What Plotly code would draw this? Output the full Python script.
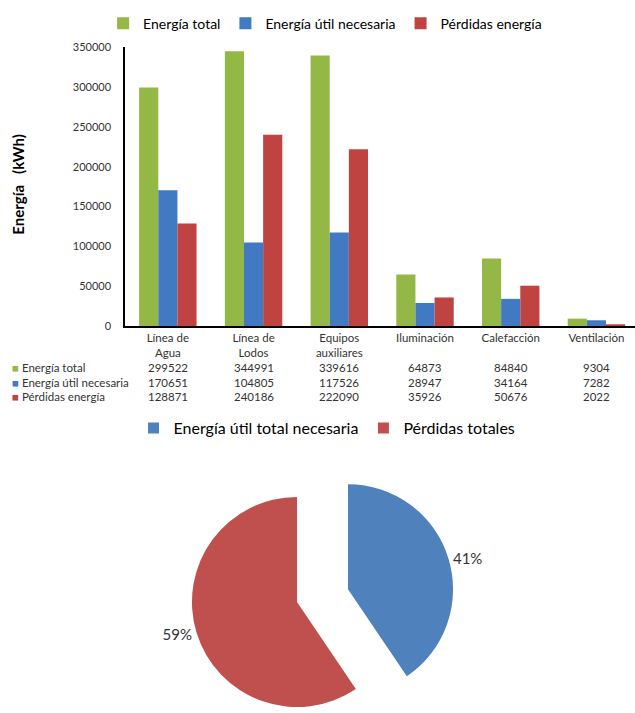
import plotly.graph_objects as go

# Energy balance per process area (kWh)
categorias = ["Línea de<br>Agua", "Línea de<br>Lodos", "Equipos<br>auxiliares",
              "Iluminación", "Calefacción", "Ventilación"]
energia_total = [299522, 344991, 339616, 64873, 84840, 9304]
energia_util = [170651, 104805, 117526, 28947, 34164, 7282]
perdidas = [128871, 240186, 222090, 35926, 50676, 2022]

series_nombres = ["Energía total", "Energía útil necesaria", "Pérdidas energía"]
series_valores = [energia_total, energia_util, perdidas]
series_colores = ["#93B846", "#4179C2", "#BF4341"]

pie_labels = ["Energía útil total necesaria", "Pérdidas totales"]
pie_colores = ["#4F81BD", "#C0504D"]
pie_valores = [sum(energia_util), sum(perdidas)]

W, H = 635, 713
FONT = "Lato"
TXT = "#333333"


def px(yp):
    """Convert a pixel row (from top) to paper coordinates."""
    return 1 - yp / H


fig = go.Figure()

for nombre, vals, color in zip(series_nombres, series_valores, series_colores):
    fig.add_trace(go.Bar(
        x=categorias, y=vals, name=nombre,
        marker=dict(color=color, line=dict(width=0)),
        legend="legend", hoverinfo="x+y+name",
    ))

# Exploded pie: each slice is drawn from its own trace so the two pieces
# can be displaced apart; the other slice of each trace is transparent.
fig.add_trace(go.Pie(
    labels=pie_labels, values=pie_valores, sort=False, direction="clockwise",
    rotation=0, showlegend=False,
    marker=dict(colors=[pie_colores[0], "rgba(0,0,0,0)"], line=dict(width=0)),
    texttemplate=["%{percent:.0%}", ""], textposition="outside",
    textfont=dict(family=FONT, size=15, color=TXT), hoverinfo="skip",
    domain=dict(x=[241 / W, 455 / W], y=[px(700), px(486)]),
))
fig.add_trace(go.Pie(
    labels=pie_labels, values=pie_valores, sort=False, direction="clockwise",
    rotation=0, showlegend=False,
    marker=dict(colors=["rgba(0,0,0,0)", pie_colores[1]], line=dict(width=0)),
    texttemplate=["", "%{percent:.0%}"], textposition="outside",
    textfont=dict(family=FONT, size=15, color=TXT), hoverinfo="skip",
    domain=dict(x=[190 / W, 404 / W], y=[px(713), px(499)]),
))

# Legend entries for the pie
for lab, col in zip(pie_labels, pie_colores):
    fig.add_trace(go.Scatter(
        x=[None], y=[None], mode="markers", name=lab, legend="legend2",
        marker=dict(symbol="square", size=11, color=col),
    ))

annotations = []
# Data table under the bar chart
filas_y = [367, 382, 397]
for nombre, vals, color, yp in zip(series_nombres, series_valores, series_colores, filas_y):
    annotations.append(dict(
        x=10 / W, y=px(yp), xref="paper", yref="paper", xanchor="left", yanchor="middle",
        text=f"<span style='color:{color}'>■</span> {nombre}", showarrow=False,
        font=dict(family=FONT, size=11.5, color=TXT),
    ))
    for cat, v in zip(categorias, vals):
        annotations.append(dict(
            x=cat, y=px(yp), xref="x", yref="paper", xanchor="center", yanchor="middle",
            text=str(v), showarrow=False, font=dict(family=FONT, size=11.5, color=TXT),
        ))

annotations.append(dict(
    x=18 / W, y=px(181), xref="paper", yref="paper", xanchor="center", yanchor="middle",
    text="<b>Energía   (kWh)</b>", textangle=-90, showarrow=False,
    font=dict(family=FONT, size=15, color="#000000"),
))

fig.update_layout(
    width=W, height=H,
    margin=dict(l=0, r=0, t=0, b=0),
    paper_bgcolor="white", plot_bgcolor="white",
    barmode="group", bargap=0.33, bargroupgap=0,
    font=dict(family=FONT, color=TXT),
    annotations=annotations,
    xaxis=dict(
        domain=[125 / W, 1], range=[-0.5, 5.45], showgrid=False, ticks="",
        showline=True, linecolor="#000000", linewidth=1.5,
        tickfont=dict(family=FONT, size=11.5, color=TXT),
        anchor="y",
    ),
    yaxis=dict(
        domain=[px(325), px(41)], range=[0, 350000], dtick=50000, tickformat="d",
        showgrid=False, zeroline=False, ticks="",
        showline=True, linecolor="#000000", linewidth=1.5,
        tickfont=dict(family=FONT, size=11, color=TXT), ticklabelstandoff=10,
    ),
    legend=dict(
        orientation="h", x=0.512, xanchor="center", y=px(17), yanchor="middle",
        font=dict(family=FONT, size=14, color="#000000"),
        bgcolor="rgba(0,0,0,0)", traceorder="normal",
    ),
    legend2=dict(
        orientation="h", x=0.515, xanchor="center", y=px(429), yanchor="middle",
        font=dict(family=FONT, size=16, color="#000000"),
        bgcolor="rgba(0,0,0,0)",
    ),
    showlegend=True,
)

fig.write_html("out.html")
